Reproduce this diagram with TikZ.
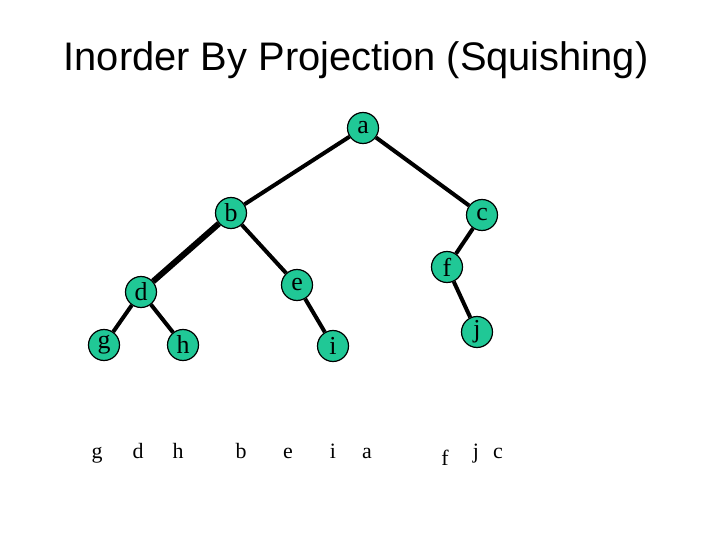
\documentclass[tikz,border=0pt]{standalone}
\usepackage{fontspec}
\setmainfont{Liberation Serif}
\newfontfamily\titlefont{Liberation Sans}
\definecolor{nodegreen}{RGB}{32,200,150}
\tikzset{
  treenode/.style={circle,draw=black,line width=1.2bp,fill=nodegreen,minimum size=31bp,inner sep=0pt,font=\fontsize{26}{26}\selectfont},
  treeedge/.style={line width=4bp},
  squished/.style={anchor=base,inner sep=0pt,font=\fontsize{22}{22}\selectfont}
}
\begin{document}
\begin{tikzpicture}[x=1bp,y=-1bp]
\useasboundingbox (0,0) rectangle (720,540);
\node[draw=none] (title) at (356,60) {\titlefont\fontsize{40}{40}\selectfont Inorder By Projection (Squishing)};
% tree
\node[treenode] (a) at (363,128) {a};
\node[treenode] (b) at (231,213) {b};
\node[treenode] (c) at (482,215) {c};
\node[treenode] (d) at (141,292) {d};
\node[treenode] (e) at (297,285) {e};
\node[treenode] (f) at (447,267) {f};
\node[treenode] (g) at (104,345) {g};
\node[treenode] (h) at (183,345) {h};
\node[treenode] (i) at (333,346) {i};
\node[treenode] (j) at (477,332) {j};
\draw[treeedge] (a) -- (b);
\draw[treeedge] (a) -- (c);
\draw[treeedge,line width=6bp] (b) -- (d);
\draw[treeedge] (b) -- (e);
\draw[treeedge] (c) -- (f);
\draw[treeedge] (d) -- (g);
\draw[treeedge] (d) -- (h);
\draw[treeedge] (e) -- (i);
\draw[treeedge] (f) -- (j);
% projection
\node[squished] (pg) at (97,458) {g};
\node[squished] (pd) at (138,458) {d};
\node[squished] (ph) at (178,458) {h};
\node[squished] (pb) at (241,458) {b};
\node[squished] (pe) at (288,458) {e};
\node[squished] (pi) at (333,458) {i};
\node[squished] (pa) at (367,458) {a};
\node[squished] (pf) at (445,465) {f};
\node[squished] (pj) at (476,458) {j};
\node[squished] (pc) at (498,458) {c};
\end{tikzpicture}
\end{document}
